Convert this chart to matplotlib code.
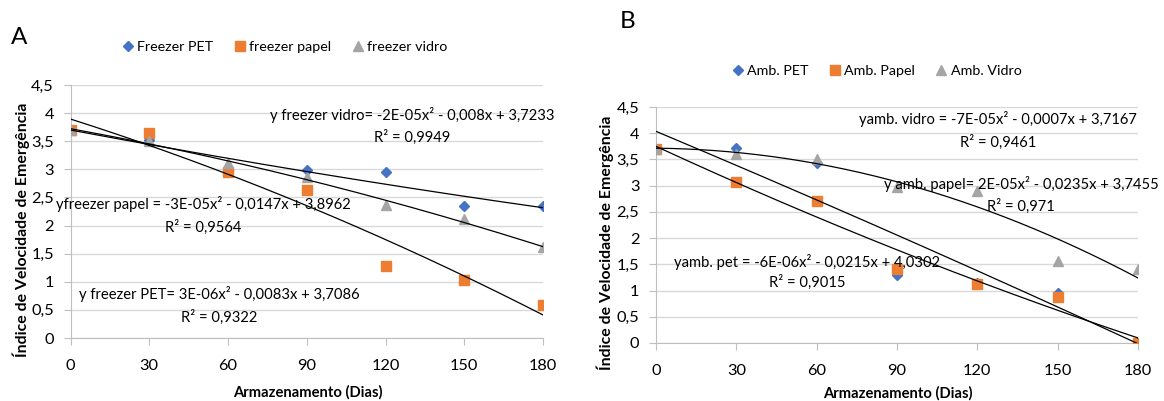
import numpy as np
import matplotlib.pyplot as plt

plt.rcParams['font.family'] = ['Lato', 'DejaVu Sans']

dias = [0, 30, 60, 90, 120, 150, 180]

# panel A - freezer
fz_pet = [3.70, 3.53, 3.00, 2.98, 2.96, 2.35, 2.35]
fz_papel = [3.70, 3.65, 2.96, 2.64, 1.28, 1.04, 0.58]
fz_vidro = [3.70, 3.50, 3.12, 2.86, 2.36, 2.12, 1.61]

# panel B - ambiente
amb_pet = [3.70, 3.72, 3.43, 1.30, 1.15, 0.96, 0.00]
amb_papel = [3.70, 3.07, 2.70, 1.41, 1.13, 0.88, 0.00]
amb_vidro = [3.70, 3.60, 3.51, 2.98, 2.89, 1.57, 1.41]

# equation labels (text, r2, x centre px, y eq px, y r2 px)
eq_a = [
    ("y freezer vidro= -2E-05x² - 0,008x + 3,7233", "R² = 0,9949", 412, 115, 137),
    ("yfreezer papel = -3E-05x² - 0,0147x + 3,8962", "R² = 0,9564", 203, 204, 227),
    ("y freezer PET= 3E-06x² - 0,0083x + 3,7086", "R² = 0,9322", 219, 294, 317),
]
eq_b = [
    ("yamb. vidro = -7E-05x² - 0,0007x + 3,7167", "R² = 0,9461", 998, 119, 142),
    ("y amb. papel= 2E-05x² - 0,0235x + 3,7455", "R² = 0,971", 1021, 184, 206),
    ("yamb. pet = -6E-06x² - 0,0215x + 4,0302", "R² = 0,9015", 807, 262, 282),
]

W, H = 1164, 401
fig = plt.figure(figsize=(W / 100, H / 100), dpi=100)

colors = ['#4472C4', '#ED7D31', '#A5A5A5']
markers = ['D', 's', '^']
msizes = [5.5, 7.5, 7.5]


def px(x, y):
    return x / W, 1 - y / H


def panel(box, series, labels, leg_xy, xlab_xy, ylab_xy):
    l, r, t, b = box
    ax = fig.add_axes([l / W, 1 - b / H, (r - l) / W, (b - t) / H])
    for s, lab, c, m, ms in zip(series, labels, colors, markers, msizes):
        ax.plot(dias, s, linestyle='none', marker=m, color=c, markersize=ms,
                label=lab, zorder=3)
    # excel-style polynomial (order 2) trendlines
    xx = np.linspace(0, 180, 200)
    for s in series:
        p = np.polyfit(dias, s, 2)
        ax.plot(xx, np.polyval(p, xx), color='black', lw=0.9, zorder=4)
    ax.set_xlim(0, 180)
    ax.set_ylim(0, 4.5)
    ax.set_xticks(dias)
    yt = np.arange(0, 4.51, 0.5)
    ax.set_yticks(yt)
    ax.set_yticklabels([f"{v:g}".replace('.', ',') for v in yt])
    ax.grid(axis='y', color='#d9d9d9', lw=1)
    ax.set_axisbelow(True)
    for sp in ['top', 'right']:
        ax.spines[sp].set_visible(False)
    for sp in ['left', 'bottom']:
        ax.spines[sp].set_color('#bfbfbf')
    ax.tick_params(colors='#bfbfbf', labelcolor='black', labelsize=11.8, length=5)
    ax.tick_params(axis='x', pad=10)
    ax.tick_params(axis='y', pad=7)
    ax.set_xlabel('Armazenamento (Dias)', fontsize=10.6, fontweight='bold', va='center')
    ax.xaxis.set_label_coords(*px(*xlab_xy), transform=fig.transFigure)
    ax.set_ylabel('Índice de Velocidade de Emergência', fontsize=11.4,
                  fontweight='bold', va='center')
    ax.yaxis.set_label_coords(*px(*ylab_xy), transform=fig.transFigure)
    ax.legend(loc='center', bbox_to_anchor=px(*leg_xy), bbox_transform=fig.transFigure,
              ncol=3, frameon=False, fontsize=10.3, handletextpad=0.15,
              columnspacing=1.35, handlelength=1.0, borderpad=0)
    return ax


axA = panel((70.5, 543, 85, 338), [fz_pet, fz_papel, fz_vidro],
            ['Freezer PET', 'freezer papel', 'freezer vidro'],
            (284, 47), (308, 392), (21, 230))
axB = panel((656, 1138, 107, 343), [amb_pet, amb_papel, amb_vidro],
            ['Amb. PET', 'Amb. Papel', 'Amb. Vidro'],
            (876, 71), (898, 393), (605, 243))

for eq, r2, xc, y1, y2 in eq_a + eq_b:
    fig.text(*px(xc, y1), eq, ha='center', va='center', fontsize=10.6)
    fig.text(*px(xc, y2), r2, ha='center', va='center', fontsize=10.6)

fig.text(*px(19, 38), 'A', fontsize=17.5, ha='center', va='center')
fig.text(*px(628, 22), 'B', fontsize=17.5, ha='center', va='center')

fig.savefig('out.png', dpi=100)
